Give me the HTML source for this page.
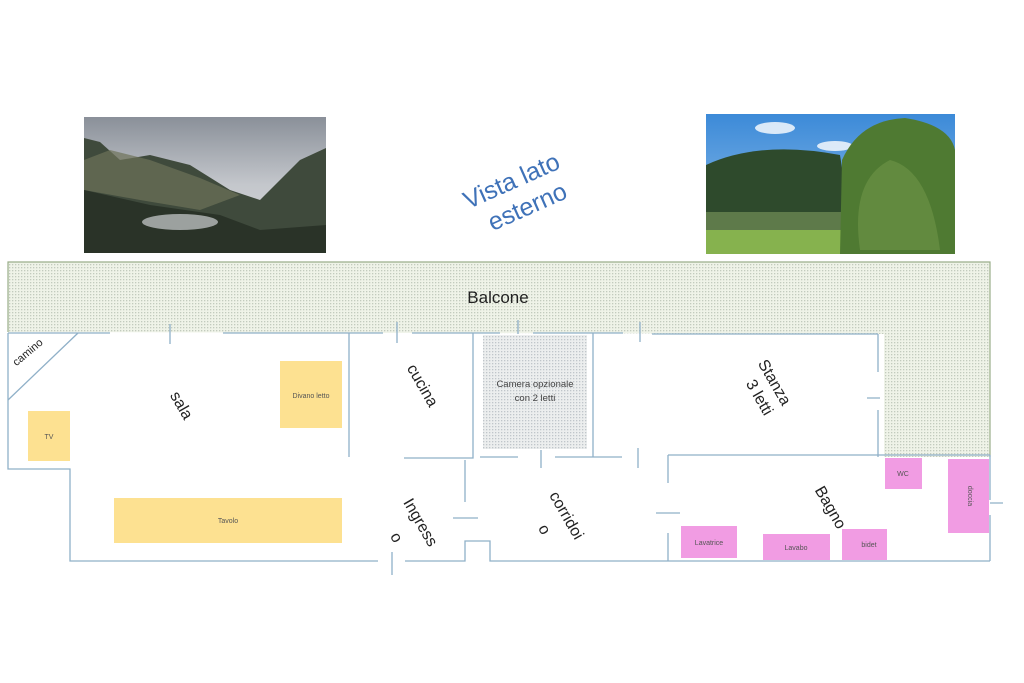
<!DOCTYPE html>
<html><head><meta charset="utf-8"><style>
html,body{margin:0;padding:0;background:#fff;}
svg{display:block;}
text{font-family:"Liberation Sans","DejaVu Sans",sans-serif;}
</style></head><body>
<svg width="1024" height="683" viewBox="0 0 1024 683" xmlns="http://www.w3.org/2000/svg">
<defs>
<pattern id="dots" width="3" height="3" patternUnits="userSpaceOnUse">
<rect width="3" height="3" fill="#eff3e8"/>
<rect x="0" y="0" width="1.3" height="1.3" fill="#c2cbbd"/>
</pattern>
<pattern id="dots2" width="3" height="3" patternUnits="userSpaceOnUse">
<rect width="3" height="3" fill="#eceeee"/>
<rect x="0" y="0" width="1.3" height="1.3" fill="#c0c5ca"/>
</pattern>
<linearGradient id="sky1" x1="0" y1="0" x2="0" y2="1">
<stop offset="0" stop-color="#8a9099"/><stop offset="0.5" stop-color="#c4c7cc"/><stop offset="1" stop-color="#d8d8d8"/>
</linearGradient>
<linearGradient id="sky2" x1="0" y1="0" x2="0" y2="1">
<stop offset="0" stop-color="#3c8ad8"/><stop offset="1" stop-color="#9cc6ec"/>
</linearGradient>
</defs>

<!-- left photo -->
<rect x="84" y="117" width="242" height="136" fill="url(#sky1)"/>
<polygon points="84,138 100,142 120,160 150,155 190,165 230,190 260,200 300,160 326,148 326,253 84,253" fill="#3f4a3c"/>
<polygon points="84,160 110,150 150,160 200,178 240,195 200,210 140,200 84,190" fill="#6d7258" opacity="0.7"/>
<polygon points="84,190 150,205 220,215 260,230 326,225 326,253 84,253" fill="#2a3328"/>
<ellipse cx="180" cy="222" rx="38" ry="8" fill="#b9bdbd" opacity="0.8"/>

<!-- right photo -->
<rect x="706" y="114" width="249" height="140" fill="url(#sky2)"/>
<ellipse cx="775" cy="128" rx="20" ry="6" fill="#fff" opacity="0.8"/>
<ellipse cx="835" cy="146" rx="18" ry="5" fill="#fff" opacity="0.8"/>
<path d="M706,165 Q760,140 840,155 L850,220 L706,220 Z" fill="#2e4a2c"/>
<rect x="706" y="212" width="140" height="20" fill="#5e7a4a"/>
<rect x="706" y="230" width="249" height="24" fill="#86b24e"/>
<path d="M840,254 L842,160 Q860,120 905,118 Q950,125 955,150 L955,254 Z" fill="#4f7a32"/>
<path d="M860,250 Q850,180 890,160 Q930,170 940,250 Z" fill="#6b9244" opacity="0.7"/>

<!-- Vista lato esterno -->
<g fill="#3f72b8" font-size="25" transform="rotate(-24 520 195)">
<text x="518" y="187" text-anchor="middle">Vista lato</text>
<text x="522" y="217" text-anchor="middle">esterno</text>
</g>

<!-- balcony -->
<path d="M8,262 L990,262 L990,457 L884,457 L884,334 L8,332 Z" fill="url(#dots)"/>
<path d="M8,332 L8,262 L990,262 L990,457" fill="none" stroke="#9aae8a" stroke-width="1.2"/>
<text x="498" y="303" font-size="17" text-anchor="middle" fill="#222">Balcone</text>

<!-- camera opzionale -->
<rect x="483" y="335" width="104" height="114" fill="url(#dots2)"/>
<text x="535" y="387" font-size="9.5" text-anchor="middle" fill="#444">Camera opzionale</text>
<text x="535" y="401" font-size="9.5" text-anchor="middle" fill="#444">con 2 letti</text>

<!-- furniture -->
<g fill="#fde191">
<rect x="280" y="361" width="62" height="67"/>
<rect x="28" y="411" width="42" height="50"/>
<rect x="114" y="498" width="228" height="45"/>
</g>
<g font-size="7" fill="#555" text-anchor="middle">
<text x="311" y="398">Divano letto</text>
<text x="49" y="439">TV</text>
<text x="228" y="523">Tavolo</text>
</g>
<g fill="#f19ce3">
<rect x="885" y="458" width="37" height="31"/>
<rect x="948" y="459" width="41" height="74"/>
<rect x="681" y="526" width="56" height="32"/>
<rect x="763" y="534" width="67" height="26"/>
<rect x="842" y="529" width="45" height="31"/>
</g>
<g font-size="7" fill="#555" text-anchor="middle">
<text x="903" y="476">WC</text>
<text x="709" y="545">Lavatrice</text>
<text x="796" y="550">Lavabo</text>
<text x="869" y="547">bidet</text>
<text x="968" y="496" transform="rotate(90 968 496)">doccia</text>
</g>

<!-- walls -->
<g stroke="#8fb0c8" stroke-width="1.3" fill="none">
<path d="M8,333 L110,333 M223,333 L383,333 M412,333 L500,333 M533,333 L623,333 M652,334 L878,334"/>
<path d="M170,324 L170,344 M397,322 L397,343 M518,320 L518,334 M640,322 L640,342"/>
<path d="M8,333 L8,469 L70,469 L70,561 L378,561 M405,561 L465,561 L465,541 L490,541 L490,561 L990,561"/>
<path d="M392,552 L392,575"/>
<path d="M8,400 L78,333"/>
<path d="M349,333 L349,457"/>
<path d="M473,333 L473,458 L404,458"/>
<path d="M465,460 L465,502 M453,518 L478,518"/>
<path d="M593,333 L593,457 M480,457 L518,457 M555,457 L622,457"/>
<path d="M541,450 L541,468 M638,448 L638,468"/>
<path d="M878,334 L878,372 M878,410 L878,457 M867,398 L880,398"/>
<path d="M668,455 L990,455 M668,455 L668,483 M668,533 L668,561 M656,513 L680,513"/>
<path d="M990,455 L990,500 M990,515 L990,561 M990,503 L1003,503"/>
</g>

<!-- room labels -->
<g fill="#222">
<text x="30" y="355" font-size="11" transform="rotate(-40 30 355)" text-anchor="middle">camino</text>
<text x="177" y="408" font-size="16" transform="rotate(60 177 408)" text-anchor="middle">sala</text>
<text x="418" y="388" font-size="16" transform="rotate(60 418 388)" text-anchor="middle">cucina</text>
<text x="770" y="385" font-size="16" transform="rotate(60 770 385)" text-anchor="middle">Stanza</text>
<text x="755" y="400" font-size="16" transform="rotate(60 755 400)" text-anchor="middle">3 letti</text>
<text x="826" y="510" font-size="16" transform="rotate(60 826 510)" text-anchor="middle">Bagno</text>
<text x="562" y="518" font-size="16" transform="rotate(60 562 518)" text-anchor="middle">corridoi</text>
<text x="540" y="532" font-size="16" transform="rotate(60 540 532)" text-anchor="middle">o</text>
<text x="416" y="525" font-size="16" transform="rotate(60 416 525)" text-anchor="middle">Ingress</text>
<text x="392" y="540" font-size="16" transform="rotate(60 392 540)" text-anchor="middle">o</text>
</g>
</svg>
</body></html>
